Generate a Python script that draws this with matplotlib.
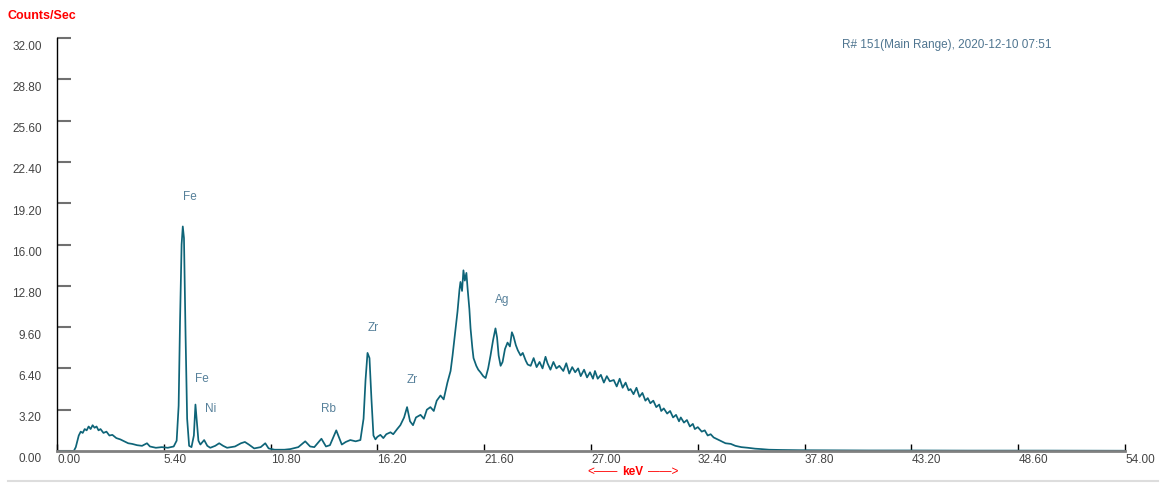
import numpy as np
import matplotlib
matplotlib.use('Agg')
from matplotlib import pyplot as plt
from matplotlib.transforms import ScaledTranslation
from matplotlib.lines import Line2D

# spectrum (keV, counts/sec)
energy_kev = [
    0.0, 0.85, 0.95, 1.1, 1.2, 1.3, 1.4, 1.5, 1.6, 1.7, 1.8, 1.9, 2.0, 2.1, 2.2, 2.35, 2.5, 2.65, 2.8,
    3.0, 3.2, 3.4, 3.6, 3.8, 4.05, 4.3, 4.55, 4.7, 5.0, 5.3, 5.6, 5.9, 6.05, 6.15, 6.22, 6.30, 6.36,
    6.42, 6.5, 6.58, 6.68, 6.8, 6.92, 7.0, 7.06, 7.15, 7.25, 7.44, 7.6, 7.75, 8.0, 8.2, 8.4, 8.6, 9.0,
    9.3, 9.5, 9.7, 9.97, 10.3, 10.53, 10.7, 11.0, 11.5, 11.8, 12.2, 12.55, 12.8, 13.01, 13.37, 13.6,
    13.8, 14.12, 14.4, 14.6, 14.83, 15.1, 15.34, 15.5, 15.6, 15.7, 15.8, 15.9, 16.0, 16.1,
    16.2, 16.35, 16.5, 16.65, 16.86, 17.0, 17.2, 17.36, 17.55, 17.7, 17.85, 18.0, 18.15, 18.38, 18.55,
    18.7, 18.88, 19.05, 19.2, 19.39, 19.55, 19.74, 19.9, 20.0, 20.12, 20.25, 20.35, 20.4, 20.48, 20.55,
    20.62, 20.7, 20.76, 20.85, 20.91, 21.0, 21.06, 21.2, 21.3, 21.41, 21.55, 21.67, 21.8, 21.92, 22.05,
    22.17, 22.25, 22.33, 22.43, 22.53, 22.65, 22.78, 22.9, 23.0, 23.08, 23.2, 23.3, 23.44, 23.55, 23.7,
    23.8, 23.95, 24.1, 24.25, 24.4, 24.55, 24.7, 24.8, 24.95, 25.1, 25.25, 25.4, 25.6, 25.75, 25.9,
    26.05, 26.2, 26.35, 26.48, 26.65, 26.8, 26.95, 27.1, 27.2, 27.34, 27.5, 27.65, 27.8, 27.95, 28.15,
    28.3, 28.45, 28.6, 28.75, 28.9, 29.0, 29.15, 29.3, 29.45, 29.6, 29.75, 29.87, 30.0, 30.15, 30.3,
    30.45, 30.55, 30.68, 30.85, 31.0, 31.15, 31.3, 31.45, 31.54, 31.7, 31.85, 32.0, 32.15, 32.25, 32.4,
    32.6, 32.75, 32.9, 33.05, 33.2, 33.4, 33.6, 33.8, 34.07, 34.3, 34.6, 34.93, 35.3, 35.6, 36.0, 36.6,
    37.6, 39.0, 41.0, 43.0, 46.0, 50.0, 54.0,
]
counts = [
    0.0, 0.0, 0.3, 1.2, 1.5, 1.4, 1.7, 1.6, 1.9, 1.7, 2.0, 1.8, 1.9, 1.6, 1.7, 1.4, 1.5, 1.2, 1.25,
    1.0, 0.9, 0.75, 0.6, 0.55, 0.45, 0.4, 0.6, 0.35, 0.25, 0.3, 0.25, 0.35, 0.8, 3.5, 10.0, 16.0, 17.4,
    16.5, 9.0, 2.5, 0.4, 0.3, 1.2, 3.6, 2.5, 0.8, 0.5, 0.85, 0.4, 0.25, 0.4, 0.6, 0.4, 0.25, 0.35,
    0.6, 0.7, 0.5, 0.2, 0.3, 0.6, 0.2, 0.1, 0.1, 0.15, 0.3, 0.75, 0.35, 0.3, 0.95, 0.35,
    0.45, 1.6, 0.5, 0.7, 0.85, 0.75, 0.85, 2.5, 5.5, 7.6, 7.2, 4.0, 1.2, 0.9,
    1.1, 1.25, 1.0, 1.3, 1.45, 1.3, 1.7, 2.0, 2.6, 3.4, 2.3, 2.0, 2.6, 2.8, 2.5,
    3.2, 3.4, 3.1, 3.9, 4.3, 4.0, 5.3, 6.2, 7.4, 9.0, 10.8, 12.5, 13.1, 12.4, 14.0,
    13.2, 13.8, 12.6, 11.0, 9.5, 8.0, 7.2, 6.6, 6.3, 6.1, 5.8, 5.65, 6.4, 7.4, 8.6,
    9.5, 8.8, 7.4, 6.6, 6.9, 7.9, 8.4, 8.1, 9.2, 8.9, 8.2, 7.8, 7.4, 7.6, 7.0,
    6.7, 6.6, 7.2, 6.5, 6.9, 6.4, 7.3, 6.8, 6.3, 6.9, 6.4, 6.6, 6.2, 6.8, 6.0,
    6.5, 6.1, 6.4, 5.8, 6.3, 5.7, 6.1, 5.6, 6.2, 5.6, 5.9, 5.3, 5.8, 5.4, 5.5,
    5.0, 5.6, 4.9, 5.3, 4.7, 4.8, 4.4, 4.9, 4.2, 4.5, 3.9, 4.1, 3.7, 3.9, 3.4,
    3.6, 3.1, 3.3, 2.9, 3.1, 2.6, 2.8, 2.3, 2.6, 2.2, 2.4, 1.9, 2.1, 1.7, 1.85,
    1.5, 1.6, 1.2, 1.3, 1.05, 0.9, 0.75, 0.6, 0.55, 0.4, 0.3, 0.25, 0.18, 0.15, 0.1, 0.08,
    0.06, 0.05, 0.04, 0.04, 0.03, 0.03, 0.02,
]

peak_names = ['Fe', 'Fe', 'Ni', 'Rb', 'Zr', 'Zr', 'Ag']
peak_kev = [6.73, 7.34, 7.75, 13.72, 16.0, 17.97, 22.53]
peak_counts = [19.7, 5.6, 3.25, 3.25, 9.55, 5.5, 11.7]

x_ticks = [0.0, 5.4, 10.8, 16.2, 21.6, 27.0, 32.4, 37.8, 43.2, 48.6, 54.0]
y_ticks = [0.0, 3.2, 6.4, 9.6, 12.8, 16.0, 19.2, 22.4, 25.6, 28.8, 32.0]

plt.rcParams['font.family'] = ['Liberation Sans', 'DejaVu Sans']

fig = plt.figure(figsize=(11.66, 4.84), dpi=100)
ax = fig.add_axes([57/1166, 33/484, 1068/1166, 413/484])

ax.plot(energy_kev, counts, color='#0e6478', linewidth=1.25)

ax.set_xlim(0, 54)
ax.set_ylim(0, 32)
ax.set_xticks(x_ticks)
ax.set_xticklabels(['%.2f' % v for v in x_ticks], ha='left')
ax.set_yticks(y_ticks)
ax.set_yticklabels(['%.2f' % v for v in y_ticks])

ax.spines['top'].set_visible(False)
ax.spines['right'].set_visible(False)
ax.spines['left'].set_color('black')
ax.spines['left'].set_linewidth(1.0)
ax.spines['bottom'].set_color('#808080')
ax.spines['bottom'].set_linewidth(2.0)

ax.tick_params(axis='y', direction='in', length=10, width=1.5, color='#707070',
               pad=11, labelsize=8.5, labelcolor='#444444')
ax.tick_params(axis='x', direction='in', length=5, width=1, color='black',
               pad=2.5, labelsize=8.5, labelcolor='#444444')

# y labels sit a little below their ticks
for lbl in ax.get_yticklabels():
    lbl.set_transform(lbl.get_transform() + ScaledTranslation(0, -7/100, fig.dpi_scale_trans))

for name, xv, yv in zip(peak_names, peak_kev, peak_counts):
    ax.text(xv, yv, name, color='#56809a', fontsize=8.5, ha='center', va='center')

fig.text(8/1166, 1 - 16/484, 'Counts/Sec', color='red', fontsize=9, weight='bold',
         ha='left', va='center')
fig.text(842/1166, 1 - 45/484, 'R# 151(Main Range), 2020-12-10 07:51', color='#4f7590',
         fontsize=8.5, ha='left', va='center')

# axis caption: <—— keV ——>
fig.text(618/1166, 1 - 472/484, '<\u2014\u2014', color='red', fontsize=8.5, ha='right', va='center')
fig.text(633/1166, 1 - 472/484, 'keV', color='red', fontsize=8.5, weight='bold', ha='center', va='center')
fig.text(648/1166, 1 - 472/484, '\u2014\u2014>', color='red', fontsize=8.5, ha='left', va='center')

fig.add_artist(Line2D([8/1166, 1158/1166], [3/484, 3/484], color='#dddddd', linewidth=1.5))

plt.savefig('out.png', dpi=100)
